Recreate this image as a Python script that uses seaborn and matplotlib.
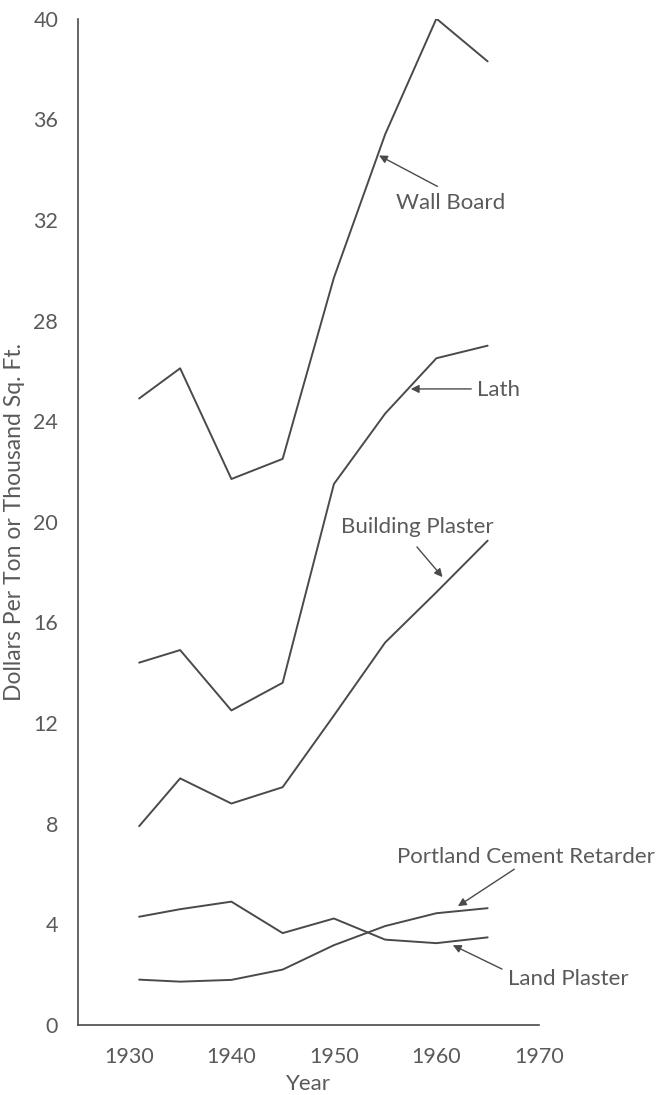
import matplotlib
matplotlib.use("Agg")
import matplotlib.pyplot as plt
import seaborn as sns
import pandas as pd

years = [1931, 1935, 1940, 1945, 1950, 1955, 1960, 1965]
wall_board = [24.9, 26.1, 21.7, 22.5, 29.7, 35.4, 40.0, 38.3]
lath = [14.4, 14.9, 12.5, 13.6, 21.5, 24.3, 26.5, 27.0]
building_plaster = [7.9, 9.8, 8.8, 9.45, 12.3, 15.2, 17.2, 19.25]
cement_retarder = [1.8, 1.72, 1.79, 2.2, 3.17, 3.93, 4.44, 4.64]
land_plaster = [4.3, 4.6, 4.9, 3.65, 4.23, 3.39, 3.25, 3.48]

series = {
    "Wall Board": wall_board,
    "Lath": lath,
    "Building Plaster": building_plaster,
    "Portland Cement Retarder": cement_retarder,
    "Land Plaster": land_plaster,
}

df = pd.concat(
    [pd.DataFrame({"year": years, "value": v, "series": k}) for k, v in series.items()],
    ignore_index=True,
)

sns.set_style("white")
plt.rcParams["font.family"] = ["Lato", "DejaVu Sans"]

ink = "#4a4a4a"
txt = "#5a5a5a"

fig = plt.figure(figsize=(6.58, 10.95), dpi=100)
ax = fig.add_axes([0.118, 0.064, 0.701, 0.919])

sns.lineplot(data=df, x="year", y="value", hue="series",
             palette=[ink] * len(series), legend=False, linewidth=1.4, ax=ax)

ax.set_xlim(1925, 1970)
ax.set_ylim(0, 40)
ax.set_xticks(range(1930, 1971, 5))
ax.set_xticklabels([str(y) if y % 10 == 0 else "" for y in range(1930, 1971, 5)])
ax.set_yticks(range(0, 41, 2))
ax.set_yticklabels([str(v) if v % 4 == 0 else "" for v in range(0, 41, 2)])

ax.tick_params(axis="x", direction="in", length=8, width=1, color=ink,
               labelsize=15.5, labelcolor=txt, pad=16)
ax.tick_params(axis="y", direction="in", length=12, width=1, color=ink,
               labelsize=15.5, labelcolor=txt, pad=14)

sns.despine(ax=ax)
for s in ("left", "bottom"):
    ax.spines[s].set_color(ink)
    ax.spines[s].set_linewidth(1.2)

ax.set_xlabel("Year", fontsize=16, color=txt, labelpad=5)
ax.set_ylabel("Dollars Per Ton or Thousand Sq. Ft.", fontsize=16.5, color=txt, labelpad=6)

arrow = dict(arrowstyle="-|>", color=ink, lw=1.0, mutation_scale=12, shrinkA=0, shrinkB=0)
labels = [
    ("Wall Board", (1956.1, 32.66), (1960.1, 33.33), (1954.4, 34.56)),
    ("Lath", (1964.0, 25.24), (1963.4, 25.28), (1957.5, 25.28)),
    ("Building Plaster", (1950.7, 19.8), (1958.1, 19.0), (1960.6, 17.8)),
    ("Portland Cement Retarder", (1956.2, 6.67), (1967.6, 6.19), (1962.1, 4.72)),
    ("Land Plaster", (1967.0, 1.83), (1966.4, 2.22), (1961.6, 3.17)),
]
for name, tpos, tail, head in labels:
    ax.text(tpos[0], tpos[1], name, fontsize=16, color=txt, va="center", ha="left",
            clip_on=False)
    ax.annotate("", xy=head, xytext=tail, arrowprops=arrow, annotation_clip=False)

fig.savefig("out.png", dpi=100)
